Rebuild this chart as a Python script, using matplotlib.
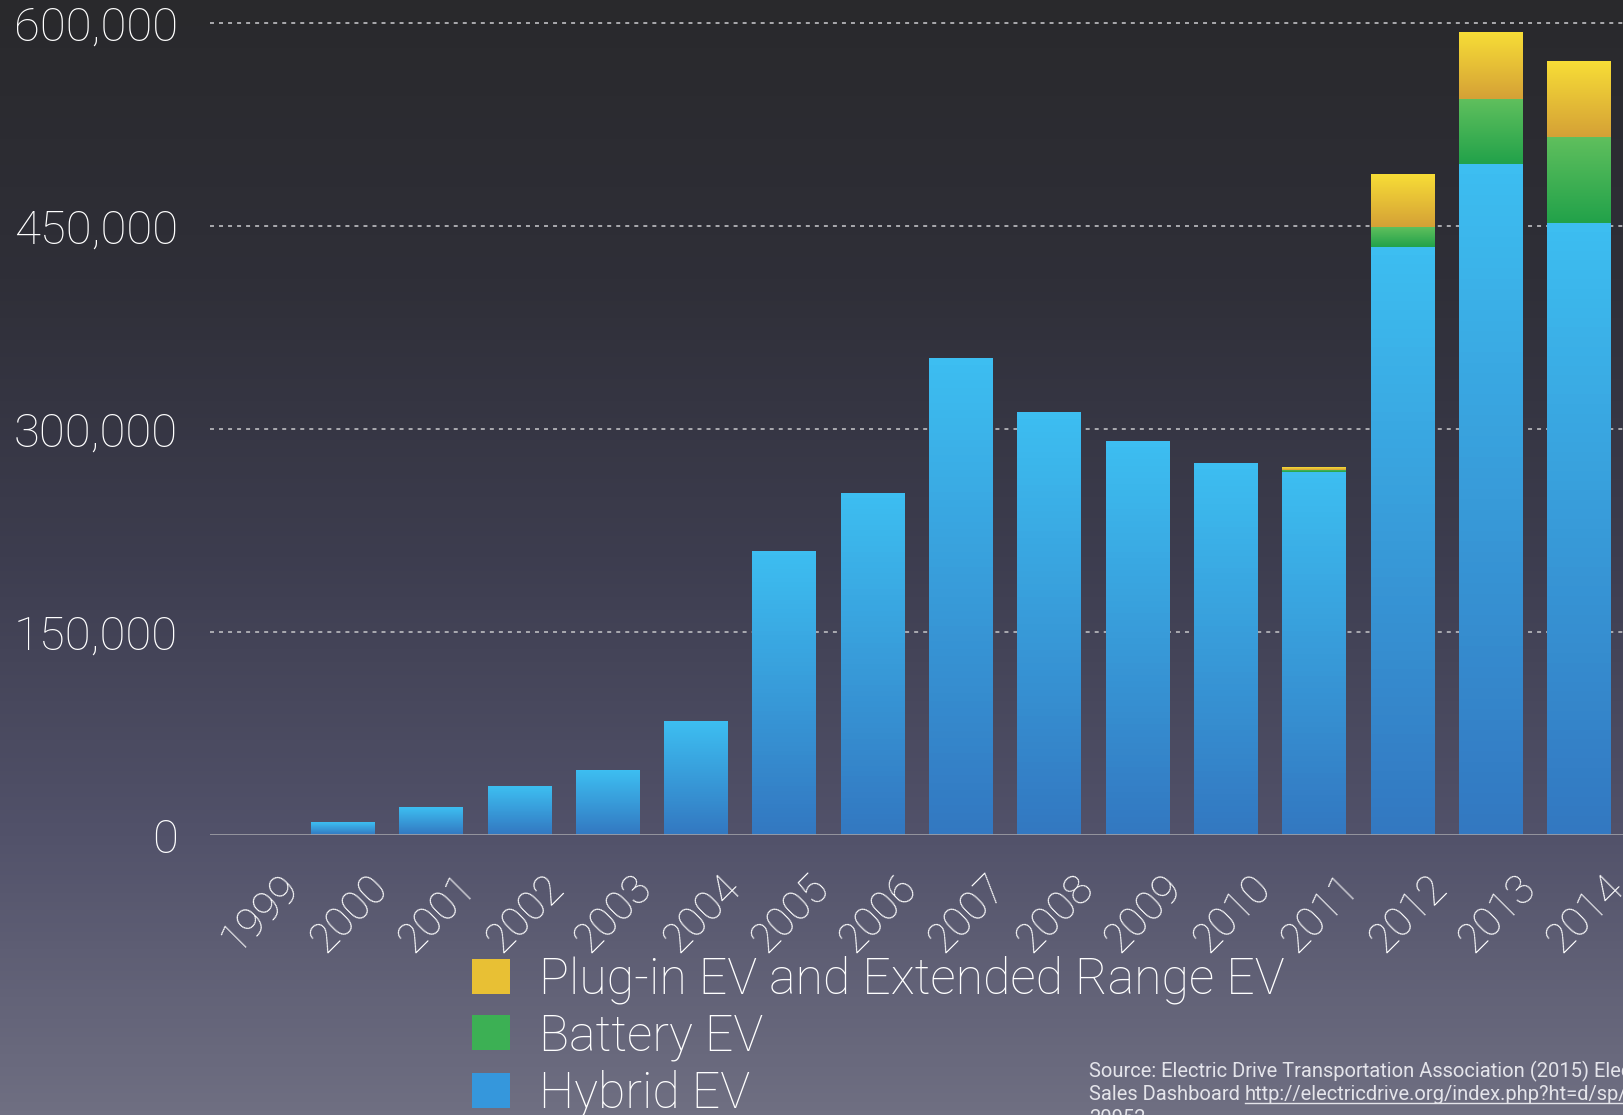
import numpy as np
import matplotlib.pyplot as plt
from matplotlib.colors import LinearSegmentedColormap
from matplotlib.transforms import ScaledTranslation

# Ventas anuales de vehículos eléctricos en EE. UU.
years = ['1999', '2000', '2001', '2002', '2003', '2004', '2005', '2006',
         '2007', '2008', '2009', '2010', '2011', '2012', '2013', '2014']
hybrid = [0, 9400, 20300, 36000, 47600, 84200, 209700, 252600,
          352300, 312400, 290300, 274200, 268000, 434500, 495700, 452200]
battery = [0, 0, 0, 0, 0, 0, 0, 0,
           0, 0, 0, 0, 1600, 14300, 47700, 63400]
plugin = [0, 0, 0, 0, 0, 0, 0, 0,
          0, 0, 0, 0, 1600, 38600, 49000, 55400]

labels = ['Plug-in EV and Extended Range EV', 'Battery EV', 'Hybrid EV']
yticks = [0, 150000, 300000, 450000, 600000]

source_1 = 'Source: Electric Drive Transportation Association (2015) Electric Drive'
source_2a = 'Sales Dashboard '
source_2b = 'http://electricdrive.org/index.php?ht=d/sp/i/20952/pid/20952'
source_3 = '20952'

plt.rcParams['font.family'] = ['Roboto', 'DejaVu Sans']

fig = plt.figure(figsize=(16.23, 11.15), dpi=100)

# fondo degradado
bg = fig.add_axes([0, 0, 1, 1], zorder=-10)
bg_cmap = LinearSegmentedColormap.from_list(
    'bg', [(0.0, '#29292c'), (0.25, '#2f2f38'), (0.5, '#3d3d4f'),
           (0.75, '#52526a'), (1.0, '#6f6f82')])
bg.imshow(np.linspace(0, 1, 256).reshape(-1, 1), cmap=bg_cmap, aspect='auto',
          extent=(0, 1, 0, 1), origin='upper')
bg.set_axis_off()

ax = fig.add_axes([0.1294, 0.2511, 0.8706, 0.7285])
ax.set_facecolor('none')

x = np.arange(len(years))
w = 0.715
hybrid = np.array(hybrid)
battery = np.array(battery)
plugin = np.array(plugin)

b_h = ax.bar(x, hybrid, w, color='#3597dc', zorder=2)
b_b = ax.bar(x, battery, w, bottom=hybrid, color='#3cb054', zorder=2)
b_p = ax.bar(x, plugin, w, bottom=hybrid + battery, color='#e8c034', zorder=2)

grads = [(b_h, '#3378c1', '#3dbef1'),
         (b_b, '#22a24a', '#5fbf5d'),
         (b_p, '#d5a137', '#f7dd36')]
for bars, c0, c1 in grads:
    cm = LinearSegmentedColormap.from_list('g', [c0, c1])
    for r in bars:
        if r.get_height() <= 0:
            continue
        x0, y0 = r.get_x(), r.get_y()
        ax.imshow(np.linspace(0, 1, 64).reshape(-1, 1), cmap=cm, aspect='auto',
                  origin='lower', zorder=3,
                  extent=(x0, x0 + r.get_width(), y0, y0 + r.get_height()))

ax.set_xlim(-0.5, 15.5)
ax.set_ylim(0, 600000)

for v in yticks[1:]:
    ax.axhline(v, color='#b4b4b8', lw=1.3, ls=(0, (2.2, 2.8)), zorder=1,
               clip_on=False)
ax.axhline(0, color='#9c9ca4', lw=2.0, zorder=4)

for s in ax.spines.values():
    s.set_visible(False)

ax.set_yticks(yticks)
ax.set_yticklabels([f'{v:,}' for v in yticks], fontsize=34, color='white',
                   fontweight='light')
ax.tick_params(axis='y', length=0, pad=23)

ax.set_xticks(x)
ax.set_xticklabels(years, fontsize=30, color='white', rotation=45,
                   ha='right', va='center', rotation_mode='anchor',
                   fontweight='light')
ax.tick_params(axis='x', length=0, pad=0)
off = ScaledTranslation(0.39, -0.46, fig.dpi_scale_trans)
for lab in ax.get_xticklabels():
    lab.set_transform(lab.get_transform() + off)

leg = fig.legend([b_p, b_b, b_h], labels, loc='upper left',
                 bbox_to_anchor=(0.2908, 0.143), frameon=False, fontsize=36,
                 handlelength=0.76, handleheight=0.7, handletextpad=0.58,
                 labelspacing=0.175, borderpad=0, borderaxespad=0)
for t in leg.get_texts():
    t.set_color('white')
    t.set_fontweight('light')

tc = '#e4e4ea'
fs = 14.5
x_src = 0.671
fig.text(x_src, 1 - 1077 / 1115, source_1, fontsize=fs, color=tc)
t2 = fig.text(x_src, 1 - 1100 / 1115, source_2a, fontsize=fs, color=tc)
fig.text(x_src, 1 - 1124 / 1115, source_3, fontsize=fs, color=tc)

fig.canvas.draw()
bb = t2.get_window_extent()
ux = bb.x1 / fig.bbox.width
fig.text(ux, 1 - 1100 / 1115, source_2b, fontsize=fs, color=tc)
fig.add_artist(plt.Line2D([ux, 1.0], [1 - 1103 / 1115] * 2, color=tc, lw=1.0,
                          transform=fig.transFigure))

fig.savefig('out.png', dpi=100)
